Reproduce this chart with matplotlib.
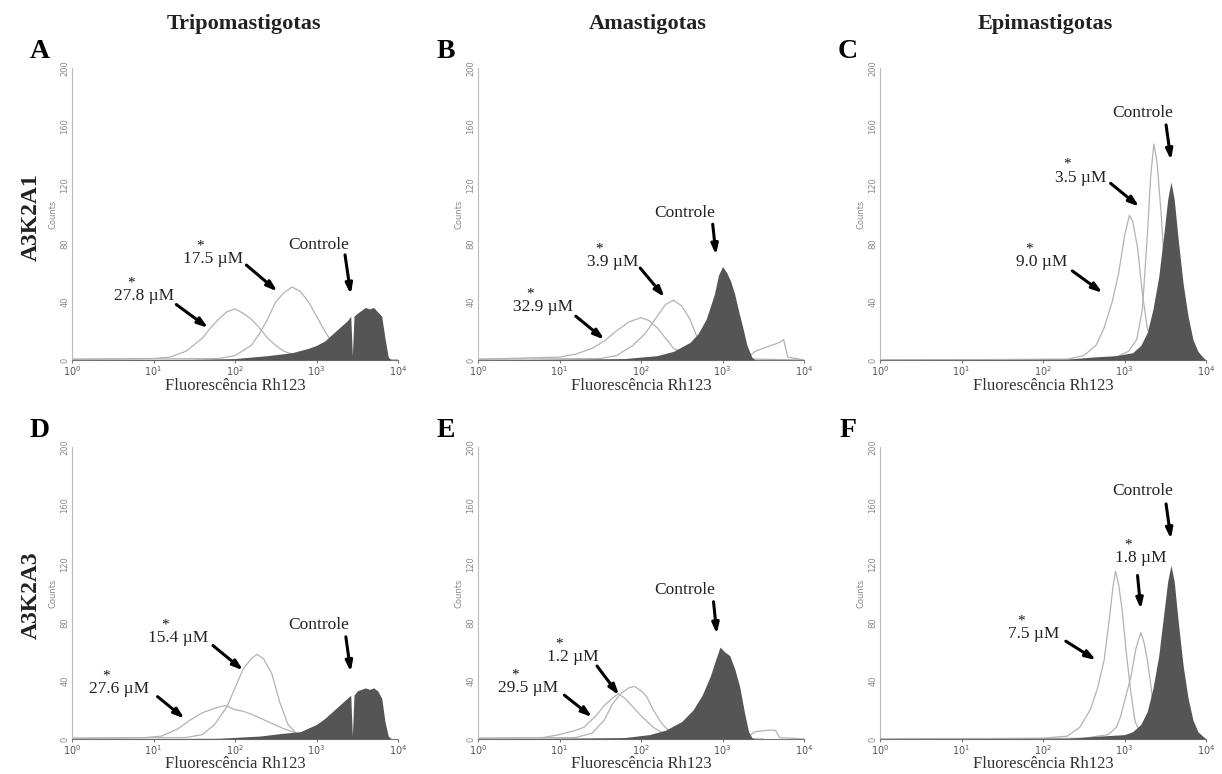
import numpy as np
import matplotlib
matplotlib.use("Agg")
import matplotlib.pyplot as plt

# column / row titles and panel letters
col_titles = ["Tripomastigotas", "Amastigotas", "Epimastigotas"]
row_titles = ["A3K2A1", "A3K2A3"]
letters = ["A", "B", "C", "D", "E", "F"]

# histograms: (log10 fluorescence, counts)
ctrl_A = [(0,0),(1.5,0.5),(2.0,1),(2.4,3),(2.7,5),(2.9,8),(3.0,10),(3.1,13),(3.2,18),(3.3,23),(3.38,27),(3.42,30),(3.44,3),(3.46,30),(3.5,32),(3.55,34),(3.6,36),(3.65,35),(3.7,36),(3.75,33),(3.8,30),(3.84,15),(3.88,2),(3.92,0),(4,0)]
low_A = [(0,0.5),(1.0,1),(1.2,2),(1.4,6),(1.6,15),(1.7,22),(1.8,28),(1.9,33),(2.0,35),(2.1,32),(2.2,28),(2.3,22),(2.4,15),(2.5,10),(2.6,6),(2.8,2),(3.0,1),(3.4,0),(4,0)]
high_A = [(0,0.5),(1.8,1),(2.0,3),(2.2,10),(2.3,18),(2.4,28),(2.5,40),(2.6,46),(2.7,50),(2.8,47),(2.9,40),(3.0,30),(3.1,20),(3.2,11),(3.3,5),(3.5,1),(4,0)]

ctrl_B = [(0,0),(1.8,1),(2.2,3),(2.4,6),(2.6,12),(2.7,18),(2.8,28),(2.9,45),(2.95,58),(3.0,64),(3.05,60),(3.1,54),(3.15,45),(3.2,33),(3.25,22),(3.3,10),(3.36,2),(3.4,0),(4,0)]
low_B = [(0,0.5),(1.0,2),(1.2,4),(1.4,8),(1.55,13),(1.7,20),(1.85,26),(2.0,29),(2.1,27),(2.2,22),(2.3,15),(2.4,8),(2.55,4),(2.8,1),(3.5,0.5),(4,0)]
high_B = [(0,0.5),(1.5,1),(1.7,3),(1.9,10),(2.05,18),(2.2,30),(2.3,38),(2.4,41),(2.5,37),(2.6,28),(2.7,14),(2.8,5),(2.9,2),(3.3,1),(3.4,6),(3.55,9),(3.7,12),(3.75,14),(3.8,2),(4,0)]

ctrl_C = [(0,0),(2.3,0.5),(2.6,2),(2.9,3),(3.1,5),(3.2,10),(3.28,19),(3.35,35),(3.42,57),(3.48,85),(3.53,110),(3.57,122),(3.61,110),(3.66,82),(3.72,52),(3.78,30),(3.84,14),(3.9,6),(3.96,2),(4,0)]
low_C = [(0,0),(2.3,0.5),(2.5,3),(2.65,10),(2.75,22),(2.85,40),(2.93,60),(3.0,85),(3.06,99),(3.1,95),(3.16,77),(3.22,45),(3.28,22),(3.35,8),(3.45,2),(3.6,0)]
high_C = [(0,0),(2.6,0.5),(2.9,2),(3.05,6),(3.15,14),(3.22,35),(3.28,85),(3.32,125),(3.36,148),(3.4,135),(3.45,100),(3.5,55),(3.55,25),(3.62,8),(3.7,2),(3.9,0)]

ctrl_D = [(0,0),(1.8,0.5),(2.3,2),(2.6,4),(2.8,5),(3.0,10),(3.1,14),(3.2,19),(3.3,24),(3.38,28),(3.42,30),(3.44,2),(3.46,30),(3.5,33),(3.6,35),(3.65,34),(3.7,35),(3.75,33),(3.8,28),(3.84,12),(3.88,2),(3.92,0),(4,0)]
low_D = [(0,0.5),(0.9,1),(1.1,2),(1.3,7),(1.45,13),(1.6,18),(1.75,21),(1.88,23),(2.0,20),(2.1,19),(2.2,17),(2.4,12),(2.6,7),(2.8,3),(3.0,1),(3.5,0)]
high_D = [(0,0.5),(1.4,1),(1.6,3),(1.75,10),(1.9,22),(2.0,35),(2.1,48),(2.2,55),(2.27,58),(2.35,55),(2.45,45),(2.55,25),(2.65,10),(2.75,4),(2.9,1),(3.2,0)]

ctrl_E = [(0,0),(1.8,1),(2.1,3),(2.3,6),(2.5,12),(2.64,20),(2.75,30),(2.85,43),(2.92,55),(2.97,63),(3.02,60),(3.09,57),(3.15,48),(3.21,36),(3.27,18),(3.32,5),(3.36,1),(3.4,0),(4,0)]
low_E = [(0,0.5),(0.8,1),(1.0,3),(1.2,6),(1.3,8),(1.45,16),(1.55,23),(1.65,28),(1.72,31),(1.8,28),(1.9,22),(2.0,16),(2.15,8),(2.3,3),(2.5,1),(3.0,0.5),(3.5,0)]
high_E = [(0,0.5),(1.2,1),(1.4,4),(1.55,13),(1.65,24),(1.75,31),(1.85,35),(1.92,36),(2.0,33),(2.07,29),(2.15,20),(2.25,11),(2.35,5),(2.5,2),(3.3,1),(3.4,5),(3.55,6),(3.65,6),(3.7,1),(4,0)]

ctrl_F = [(0,0),(2.3,0.5),(2.7,2),(3.0,3),(3.1,5),(3.2,10),(3.28,19),(3.35,35),(3.42,57),(3.48,85),(3.53,108),(3.57,119),(3.61,108),(3.66,80),(3.72,50),(3.78,28),(3.84,13),(3.9,5),(3.96,2),(4,0)]
low_F = [(0,0),(2.0,0.5),(2.3,2),(2.45,8),(2.58,20),(2.67,35),(2.75,54),(2.82,85),(2.86,105),(2.89,115),(2.93,105),(2.97,89),(3.02,60),(3.08,31),(3.13,12),(3.2,3),(3.35,0)]
high_F = [(0,0),(2.5,0.5),(2.8,3),(2.9,8),(2.95,15),(3.02,30),(3.08,43),(3.14,62),(3.2,73),(3.24,66),(3.28,54),(3.32,38),(3.36,20),(3.42,8),(3.5,3),(3.7,0)]

# concentration labels (treated curves)
conc_labels = [("27.8", "17.5"), ("32.9", "3.9"), ("9.0", "3.5"),
               ("27.6", "15.4"), ("29.5", "1.2"), ("7.5", "1.8")]

# annotation layout per panel: text centre (dec, count), arrow start, arrow tip
ann = [
    [((0.89, 44), (1.28, 38), (1.67, 22)), ((1.73, 69), (2.14, 65), (2.52, 47)), ((3.03, 79), (3.35, 72), (3.42, 45))],
    [((0.80, 36), (1.20, 30), (1.55, 14)), ((1.65, 67), (1.99, 63), (2.29, 43)), ((2.53, 101), (2.88, 93), (2.92, 72))],
    [((1.99, 67), (2.36, 61), (2.73, 46)), ((2.46, 125), (2.83, 121), (3.18, 105)), ((3.22, 169), (3.51, 161), (3.57, 137))],
    [((0.58, 34), (1.05, 29), (1.38, 14)), ((1.30, 69), (1.73, 64), (2.10, 47)), ((3.03, 78), (3.36, 70), (3.42, 46))],
    [((0.61, 35), (1.06, 30), (1.40, 15)), ((1.16, 56), (1.46, 50), (1.73, 30)), ((2.54, 102), (2.89, 94), (2.93, 72))],
    [((1.89, 72), (2.28, 67), (2.65, 54)), ((3.20, 124), (3.16, 112), (3.20, 89)), ((3.22, 170), (3.51, 161), (3.57, 137))],
]

panels = [(ctrl_A, low_A, high_A), (ctrl_B, low_B, high_B), (ctrl_C, low_C, high_C),
          (ctrl_D, low_D, high_D), (ctrl_E, low_E, high_E), (ctrl_F, low_F, high_F)]

W, H = 1222, 774
fig = plt.figure(figsize=(W / 100, H / 100), dpi=100)
serif = "Liberation Serif"

col_left = [72, 478, 880]
ax_w = 326
row_top = [68, 447]
ax_h = 292
xlabel_pad = [0, -1]

def xy(pts):
    a = np.array(pts, dtype=float)
    return 10 ** a[:, 0], a[:, 1]

for i, (ctrl, low, high) in enumerate(panels):
    r, c = divmod(i, 3)
    left = col_left[c]
    top = row_top[r]
    ax = fig.add_axes([left / W, 1 - (top + ax_h) / H, ax_w / W, ax_h / H])
    ax.set_xscale("log")
    ax.set_xlim(1, 1e4)
    ax.set_ylim(0, 200)

    x, y = xy(ctrl)
    ax.fill_between(x, 0, y, color="#555555", lw=0, zorder=3)
    for curve in (low, high):
        x, y = xy(curve)
        ax.plot(x, y, color="#b3b3b3", lw=0.9, zorder=2)

    for s in ["top", "right"]:
        ax.spines[s].set_visible(False)
    ax.spines["left"].set_color("#bbbbbb")
    ax.spines["left"].set_linewidth(0.8)
    ax.spines["bottom"].set_color("#777777")
    ax.spines["bottom"].set_linewidth(0.8)
    ax.set_yticks([0, 40, 80, 120, 160, 200])
    ax.set_yticklabels(["0", "40", "80", "120", "160", "200"], rotation=90,
                       va="center", fontsize=6, color="#888888")
    ax.tick_params(axis="y", length=0, pad=2)
    ax.set_xticks([1, 10, 100, 1000, 10000])
    ax.set_xticklabels([r"$10^0$", r"$10^1$", r"$10^2$", r"$10^3$", r"$10^4$"],
                       fontsize=7, color="#555555")
    ax.xaxis.set_minor_locator(matplotlib.ticker.NullLocator())
    ax.tick_params(axis="x", length=2, pad=1, color="#777777")
    ax.set_ylabel("Counts", fontsize=6, color="#888888", labelpad=2)
    ax.set_xlabel("Fluorescência Rh123", fontsize=12, family=serif,
                  color="#333333", labelpad=xlabel_pad[r])

    texts = [conc_labels[i][0] + " µM", conc_labels[i][1] + " µM", "Controle"]
    for j, (txt, (tpos, a0, a1)) in enumerate(zip(texts, ann[i])):
        ax.text(10 ** tpos[0], tpos[1], txt, ha="center", va="center",
                fontsize=12.5, family=serif, color="#222222", zorder=5)
        if j < 2:
            # asterisk marks significance, sits over the number
            ax.text(10 ** (tpos[0] - 0.16), tpos[1] + 9, "*", ha="center",
                    va="center", fontsize=11, family=serif, color="#111111")
        ax.annotate("", xy=(10 ** a1[0], a1[1]), xytext=(10 ** a0[0], a0[1]),
                    arrowprops=dict(arrowstyle="-|>,head_length=0.6,head_width=0.2",
                                    color="black", lw=2.2, shrinkA=0, shrinkB=0),
                    zorder=6)

    fig.text((left - 32) / W, 1 - (top - 16) / H, letters[i], fontsize=20,
             fontweight="bold", family=serif, ha="center", va="center")

title_x = [244, 648, 1045]
for t, cx in zip(col_titles, title_x):
    fig.text(cx / W, 1 - 24 / H, t, fontsize=16, fontweight="bold", family=serif,
             ha="center", va="center", color="#222222")

for t, cy in zip(row_titles, [217, 595]):
    fig.text(31 / W, 1 - cy / H, t, fontsize=17, fontweight="bold", family=serif,
             ha="center", va="center", rotation=90, color="#222222")

fig.savefig("out.png", dpi=100)
